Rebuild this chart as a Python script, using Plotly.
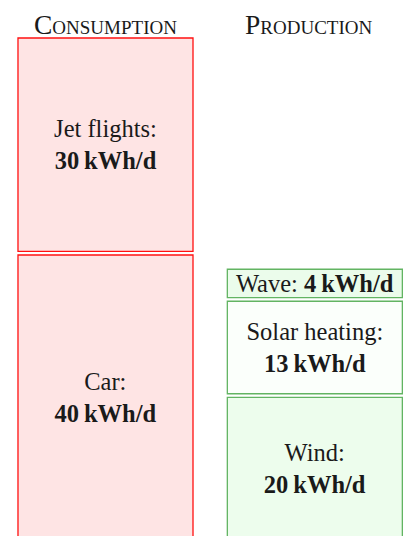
import plotly.graph_objects as go

# Data (kWh/d)
columns = ["Consumption", "Production"]
cons_labels = ["Car", "Jet flights"]
cons_values = [40, 30]
prod_labels = ["Wind", "Solar heating", "Wave"]
prod_values = [20, 13, 4]
unit = "kWh/d"

GAP = 0.5  # visual gap between stacked boxes, in data units


def stack(values):
    bases, b = [], 0.0
    for v in values:
        bases.append(b)
        b += v + GAP
    return bases


def labels(names, values, oneline=()):
    out = []
    for n, v in zip(names, values):
        sep = " " if n in oneline else "<br>"
        out.append(f"{n}:{sep}<b>{v}\u2009{unit}</b>")
    return out


FONT = "Liberation Serif"
TXT = dict(family=FONT, size=24.5, color="#1a1a1a")

fig = go.Figure()
fig.add_trace(go.Bar(
    x=[0] * len(cons_values), y=cons_values, base=stack(cons_values),
    width=0.836,
    marker=dict(color="#fee4e4", line=dict(color="#ff1010", width=1.3)),
    text=labels(cons_labels, cons_values),
    textposition="inside", insidetextanchor="middle", textangle=0,
    constraintext="none", textfont=TXT,
    hoverinfo="skip",
))
fig.add_trace(go.Bar(
    x=[1] * len(prod_values), y=prod_values, base=stack(prod_values),
    width=0.836,
    marker=dict(color=["#edfded", "#fbfffb", "#ebfceb"],
                line=dict(color="#62b462", width=1.3)),
    text=labels(prod_labels, prod_values, oneline=("Wave",)),
    textposition="inside", insidetextanchor="middle", textangle=0,
    constraintext="none", textfont=TXT,
    hoverinfo="skip",
))

for i, (name, shift) in enumerate(zip(columns, [0, -6])):
    fig.add_annotation(
        x=i, y=1, xref="x", yref="paper", yanchor="top", xshift=shift, yshift=0,
        borderpad=0,
        text=name, showarrow=False,
        font=dict(family=FONT, size=27.5, color="#1a1a1a", variant="small-caps"),
    )

fig.update_layout(
    width=404, height=528,
    margin=dict(l=0, r=0, t=0, b=0),
    paper_bgcolor="white", plot_bgcolor="white",
    barmode="overlay", showlegend=False,
    xaxis=dict(range=[-0.4657, 1.4641], visible=False, fixedrange=True),
    yaxis=dict(range=[0.506, 74.715], visible=False, fixedrange=True),
)

fig.write_html("out.html", config={"displayModeBar": False})
